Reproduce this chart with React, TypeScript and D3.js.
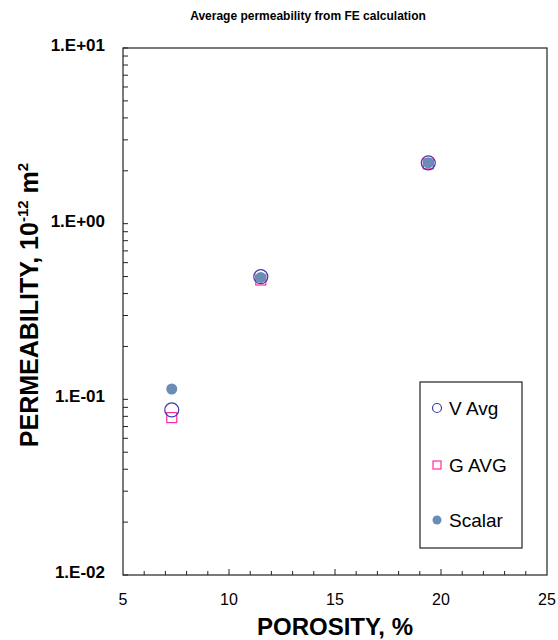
import React, { useEffect, useRef } from 'react';
import * as d3 from 'd3';

const porosity = [7.3, 11.5, 19.4];
const vAvg = [0.087, 0.499, 2.22];
const gAvg = [0.0787, 0.478, 2.19];
const scalar = [0.1145, 0.494, 2.22];
const xTicks = [5, 10, 15, 20, 25];
const yTicks = [0.01, 0.1, 1, 10];
const yTickLabels = ['1.E-02', '1.E-01', '1.E+00', '1.E+01'];
const legendNames = ['V Avg', 'G AVG', 'Scalar'];

const FONT = '"Liberation Sans", Arial, sans-serif';

export default function App() {
  const ref = useRef<SVGSVGElement>(null);

  useEffect(() => {
    const svg = d3.select(ref.current);
    svg.selectAll('*').remove();

    const left = 123, right = 547, top = 48, bottom = 575;

    const x = d3.scaleLinear().domain([5, 25]).range([left, right]);
    const y = d3.scaleLog().domain([0.01, 10]).range([bottom, top]);

    svg.append('text')
      .attr('x', 308).attr('y', 20)
      .attr('text-anchor', 'middle')
      .attr('font-family', FONT).attr('font-weight', 'bold').attr('font-size', 12)
      .text('Average permeability from FE calculation');

    // frame
    svg.append('rect')
      .attr('x', left).attr('y', top)
      .attr('width', right - left).attr('height', bottom - top)
      .attr('fill', 'none').attr('stroke', '#222').attr('stroke-width', 1.2);

    // x ticks, pointing inward, every 1
    const xMinor = d3.range(6, 25, 1);
    svg.append('g').selectAll('line').data(xMinor).join('line')
      .attr('x1', d => x(d)).attr('x2', d => x(d))
      .attr('y1', bottom).attr('y2', d => bottom - (d % 5 === 0 ? 6 : 4))
      .attr('stroke', '#222');

    // y ticks (log minors)
    const yMinor: number[] = [];
    [0.01, 0.1, 1].forEach(b => { for (let i = 2; i <= 9; i++) yMinor.push(b * i); });
    svg.append('g').selectAll('line').data(yMinor.concat(yTicks)).join('line')
      .attr('x1', left).attr('x2', left + 5)
      .attr('y1', d => y(d)).attr('y2', d => y(d))
      .attr('stroke', '#222');

    svg.append('g').selectAll('text').data(xTicks).join('text')
      .attr('x', d => x(d)).attr('y', 605)
      .attr('text-anchor', 'middle')
      .attr('font-family', FONT).attr('font-size', 16)
      .text(d => String(d));

    svg.append('g').selectAll('text').data(yTicks).join('text')
      .attr('x', 105).attr('y', d => y(d) + 3)
      .attr('text-anchor', 'end')
      .attr('font-family', FONT).attr('font-weight', 'bold').attr('font-size', 17)
      .text((d, i) => yTickLabels[i]);

    svg.append('text')
      .attr('x', 335).attr('y', 635)
      .attr('text-anchor', 'middle')
      .attr('font-family', FONT).attr('font-weight', 'bold').attr('font-size', 24)
      .text('POROSITY, %');

    const yl = svg.append('text')
      .attr('transform', 'translate(38,305) rotate(-90)')
      .attr('text-anchor', 'middle')
      .attr('font-family', FONT).attr('font-weight', 'bold').attr('font-size', 25);
    yl.append('tspan').text('PERMEABILITY, 10');
    yl.append('tspan').attr('dy', -10).attr('font-size', 15).text('-12');
    yl.append('tspan').attr('dy', 10).text(' m');
    yl.append('tspan').attr('dy', -10).attr('font-size', 15).text('2');

    const sq = 10;
    svg.append('g').selectAll('rect').data(porosity).join('rect')
      .attr('x', d => x(d) - sq / 2).attr('y', (d, i) => y(gAvg[i]) - sq / 2)
      .attr('width', sq).attr('height', sq)
      .attr('fill', 'none').attr('stroke', '#ff2d9b').attr('stroke-width', 1.2);

    svg.append('g').selectAll('circle').data(porosity).join('circle')
      .attr('cx', d => x(d)).attr('cy', (d, i) => y(vAvg[i]))
      .attr('r', 7)
      .attr('fill', 'none').attr('stroke', '#3b3ba6').attr('stroke-width', 1.2);

    svg.append('g').selectAll('circle').data(porosity).join('circle')
      .attr('cx', d => x(d)).attr('cy', (d, i) => y(scalar[i]))
      .attr('r', 5.5)
      .attr('fill', '#6a8db5');

    // legend
    const lg = svg.append('g');
    lg.append('rect')
      .attr('x', 420).attr('y', 382).attr('width', 102).attr('height', 166)
      .attr('fill', 'white').attr('stroke', '#222').attr('stroke-width', 1.2);
    const ly = [408, 465, 520];
    lg.append('circle').attr('cx', 437).attr('cy', ly[0]).attr('r', 4.5)
      .attr('fill', 'none').attr('stroke', '#3b3ba6').attr('stroke-width', 1.2);
    lg.append('rect').attr('x', 433).attr('y', ly[1] - 4).attr('width', 8).attr('height', 8)
      .attr('fill', 'none').attr('stroke', '#ff2d9b').attr('stroke-width', 1.2);
    lg.append('circle').attr('cx', 437).attr('cy', ly[2]).attr('r', 4.5)
      .attr('fill', '#6a8db5');
    lg.selectAll('text').data(legendNames).join('text')
      .attr('x', 449).attr('y', (d, i) => ly[i] + 7)
      .attr('font-family', FONT).attr('font-size', 19)
      .text(d => d);
  }, []);

  return (
    <svg ref={ref} width={558} height={640}
      style={{ position: 'absolute', left: 0, top: 0, background: 'white' }} />
  );
}
